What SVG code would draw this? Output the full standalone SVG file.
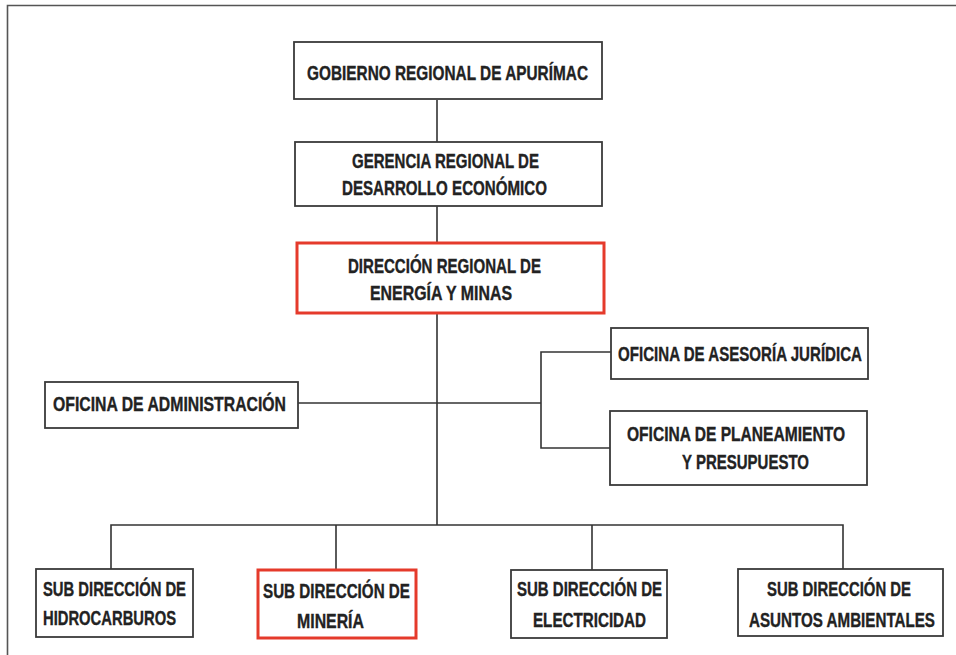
<svg xmlns="http://www.w3.org/2000/svg" width="956" height="655" viewBox="0 0 956 655">
<style>
.box{fill:#fff;stroke:#3a3a3a;stroke-width:1.8}
.red{fill:#fff;stroke:#e53a2b;stroke-width:3}
.t{font-family:"Liberation Sans Narrow","Liberation Sans",Arial,sans-serif;font-weight:bold;font-size:19.5px;fill:#222;stroke:#222;stroke-width:0.35}
.c{fill:none;stroke:#333;stroke-width:1.6}
.frame{fill:none;stroke:#555;stroke-width:1.6}
</style>
<rect width="956" height="655" fill="#fff"/>
<path class="frame" d="M7.5,655 V5.5 H956"/>
<g id="connectors">
<line class="c" x1="437" y1="100" x2="437" y2="142"/>
<line class="c" x1="437" y1="206" x2="437" y2="243"/>
<line class="c" x1="437" y1="313" x2="437" y2="525"/>
<line class="c" x1="298" y1="403" x2="541" y2="403"/>
<path class="c" d="M611,352 H541 V448 H610"/>
<path class="c" d="M111,569 V525 H843 V569"/>
<line class="c" x1="336" y1="525" x2="336" y2="570"/>
<line class="c" x1="592" y1="525" x2="592" y2="570"/>
</g>
<g id="gobierno">
<rect class="box" x="294" y="42" width="308" height="57"/>
<text class="t" x="307" y="80" textLength="281" lengthAdjust="spacingAndGlyphs">GOBIERNO REGIONAL DE APURÍMAC</text>
</g>
<g id="gerencia">
<rect class="box" x="295" y="142" width="307" height="64"/>
<text class="t" x="352" y="168" textLength="187" lengthAdjust="spacingAndGlyphs">GERENCIA REGIONAL DE</text>
<text class="t" x="342" y="195" textLength="205" lengthAdjust="spacingAndGlyphs">DESARROLLO ECONÓMICO</text>
</g>
<g id="direccion">
<rect class="red" x="297" y="243" width="307" height="70"/>
<text class="t" x="348" y="273" textLength="193" lengthAdjust="spacingAndGlyphs">DIRECCIÓN REGIONAL DE</text>
<text class="t" x="370" y="300" textLength="142" lengthAdjust="spacingAndGlyphs">ENERGÍA Y MINAS</text>
</g>
<g id="administracion">
<rect class="box" x="45" y="382" width="253" height="46"/>
<text class="t" x="53" y="411" textLength="233" lengthAdjust="spacingAndGlyphs">OFICINA DE ADMINISTRACIÓN</text>
</g>
<g id="juridica">
<rect class="box" x="611" y="328" width="257" height="51"/>
<text class="t" x="618" y="360.5" textLength="244" lengthAdjust="spacingAndGlyphs">OFICINA DE ASESORÍA JURÍDICA</text>
</g>
<g id="planeamiento">
<rect class="box" x="610" y="411" width="257" height="74"/>
<text class="t" x="627" y="440.5" textLength="218" lengthAdjust="spacingAndGlyphs">OFICINA DE PLANEAMIENTO</text>
<text class="t" x="682" y="469" textLength="127" lengthAdjust="spacingAndGlyphs">Y PRESUPUESTO</text>
</g>
<g id="hidrocarburos">
<rect class="box" x="36" y="569" width="157" height="68"/>
<text class="t" x="43" y="595.5" textLength="143" lengthAdjust="spacingAndGlyphs">SUB DIRECCIÓN DE</text>
<text class="t" x="43" y="625" textLength="133" lengthAdjust="spacingAndGlyphs">HIDROCARBUROS</text>
</g>
<g id="mineria">
<rect class="red" x="258" y="570" width="158" height="68"/>
<text class="t" x="263" y="597.5" textLength="147" lengthAdjust="spacingAndGlyphs">SUB DIRECCIÓN DE</text>
<text class="t" x="297" y="628" textLength="67" lengthAdjust="spacingAndGlyphs">MINERÍA</text>
</g>
<g id="electricidad">
<rect class="box" x="511" y="570" width="156" height="68"/>
<text class="t" x="517" y="596" textLength="145" lengthAdjust="spacingAndGlyphs">SUB DIRECCIÓN DE</text>
<text class="t" x="533" y="627" textLength="113" lengthAdjust="spacingAndGlyphs">ELECTRICIDAD</text>
</g>
<g id="ambientales">
<rect class="box" x="738" y="569" width="205" height="67"/>
<text class="t" x="767" y="596" textLength="144" lengthAdjust="spacingAndGlyphs">SUB DIRECCIÓN DE</text>
<text class="t" x="749" y="627" textLength="186" lengthAdjust="spacingAndGlyphs">ASUNTOS AMBIENTALES</text>
</g>
</svg>
